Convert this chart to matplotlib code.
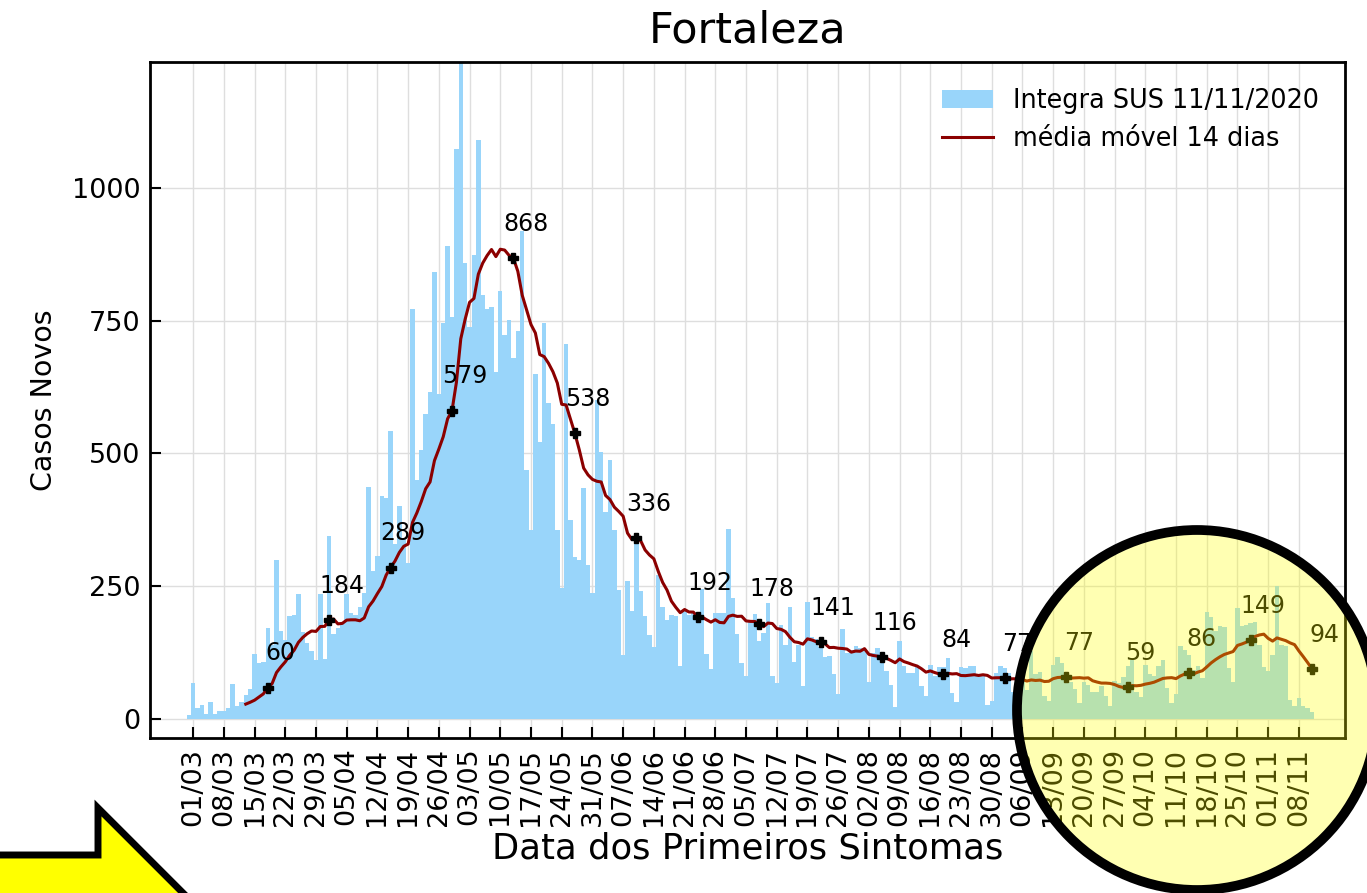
import numpy as np
import pandas as pd
import matplotlib
matplotlib.use("Agg")
import matplotlib.pyplot as plt
import matplotlib.dates as mdates
from matplotlib.patches import Ellipse, Polygon

# casos novos por dia, a partir de 29/02/2020
casos = [
    8, 67, 21, 26, 9, 32, 9, 15, 15, 21, 65, 24, 32, 45, 56,
    122, 105, 108, 172, 140, 300, 165, 148, 193, 196, 235, 163, 142, 128, 110,
    235, 112, 345, 160, 172, 178, 235, 200, 196, 210, 237, 437, 279, 307, 420,
    416, 542, 330, 400, 340, 294, 771, 450, 507, 574, 616, 841, 612, 745, 890,
    757, 1073, 1550, 858, 738, 873, 1090, 799, 772, 776, 654, 806, 723, 751, 679,
    730, 919, 469, 355, 650, 521, 745, 595, 555, 355, 246, 705, 375, 305, 300,
    435, 290, 237, 600, 502, 389, 487, 355, 242, 120, 260, 204, 334, 240, 193,
    157, 136, 270, 210, 187, 195, 193, 100, 204, 195, 201, 200, 244, 122, 93,
    199, 199, 200, 357, 227, 160, 105, 80, 183, 198, 146, 161, 218, 80, 68,
    177, 139, 210, 108, 139, 62, 221, 154, 150, 136, 116, 119, 85, 47, 169,
    124, 129, 137, 133, 131, 70, 124, 133, 105, 91, 64, 23, 146, 99, 87,
    86, 100, 61, 43, 102, 81, 97, 97, 114, 48, 31, 97, 95, 99, 99,
    80, 80, 26, 33, 87, 99, 95, 86, 50, 25, 83, 55, 128, 85, 89,
    43, 33, 102, 117, 106, 89, 70, 56, 30, 70, 64, 50, 51, 62, 43,
    24, 72, 67, 78, 100, 110, 51, 42, 102, 85, 80, 100, 111, 58, 30,
    47, 137, 130, 120, 92, 100, 77, 202, 191, 166, 175, 173, 95, 70, 208,
    175, 177, 180, 183, 140, 98, 90, 120, 250, 139, 137, 35, 25, 40, 25,
    20, 12,
]
datas = pd.date_range("2020-02-29", periods=len(casos), freq="D")

# valores anotados na média móvel (a cada 14 dias, de 18/03 a 11/11)
datas_rotulo = pd.date_range("2020-03-18", "2020-11-11", freq="14D")
rotulos = [60, 184, 289, 579, 868, 538, 336, 192, 178, 141, 116, 84, 77, 77, 59, 86, 149, 94]

serie = pd.Series(casos, index=datas)
media = serie.rolling(14).mean()

fig = plt.figure(figsize=(13.67, 8.93), dpi=100)
ax = fig.add_axes([0.1097, 0.1736, 0.8742, 0.757])

barras = ax.bar(datas, casos, width=1.0, color="#99d5fa", linewidth=0, zorder=2)
linha, = ax.plot(media.index, media.values, color="#8b0000", lw=2.2, zorder=3)

mv = media.loc[datas_rotulo].values
ax.plot(datas_rotulo, mv, "P", color="black", ms=7.5, zorder=4)
for d, y, r in zip(datas_rotulo, mv, rotulos):
    ax.annotate(str(r), (d, y), xytext=(9, 16), textcoords="offset points",
                ha="center", va="bottom", fontsize=17, zorder=5)

ax.set_xlim(pd.Timestamp("2020-02-20 04:00"), pd.Timestamp("2020-11-18 12:00"))
ax.set_ylim(-36, 1237)
ax.set_yticks([0, 250, 500, 750, 1000])
ticks = pd.date_range("2020-03-01", "2020-11-08", freq="7D")
ax.set_xticks(ticks)
ax.xaxis.set_major_formatter(mdates.DateFormatter("%d/%m"))
ax.tick_params(axis="x", rotation=90)
ax.tick_params(direction="in", length=8, width=1.5, labelsize=19.5, pad=7)
ax.grid(True, color="#dedede", lw=1, zorder=0)
ax.set_axisbelow(True)
for s in ax.spines.values():
    s.set_linewidth(2)

ax.set_title("Fortaleza", fontsize=31, pad=14)
ax.set_xlabel("Data dos Primeiros Sintomas", fontsize=25.5, labelpad=4)
ax.set_ylabel("Casos Novos", fontsize=20.5, labelpad=10)
ax.legend([barras, linha], ["Integra SUS 11/11/2020", "média móvel 14 dias"],
          loc="upper right", fontsize=18.4, frameon=False, handlelength=2.0,
          borderaxespad=0.6)

W, H = 1367, 893
circ = Ellipse((1197 / W, 1 - 710 / H), 360 / W, 360 / H, transform=fig.transFigure,
               facecolor=(1, 1, 0, 0.3), edgecolor="black", lw=7, zorder=20)
fig.add_artist(circ)

pts = [(-20, 855), (98, 855), (98, 808), (300, 1010), (-20, 1010)]
seta = Polygon([(x / W, 1 - y / H) for x, y in pts], closed=True, transform=fig.transFigure,
               facecolor="#ffff00", edgecolor="black", lw=5, zorder=20)
fig.add_artist(seta)

fig.savefig("out.png", dpi=100)
